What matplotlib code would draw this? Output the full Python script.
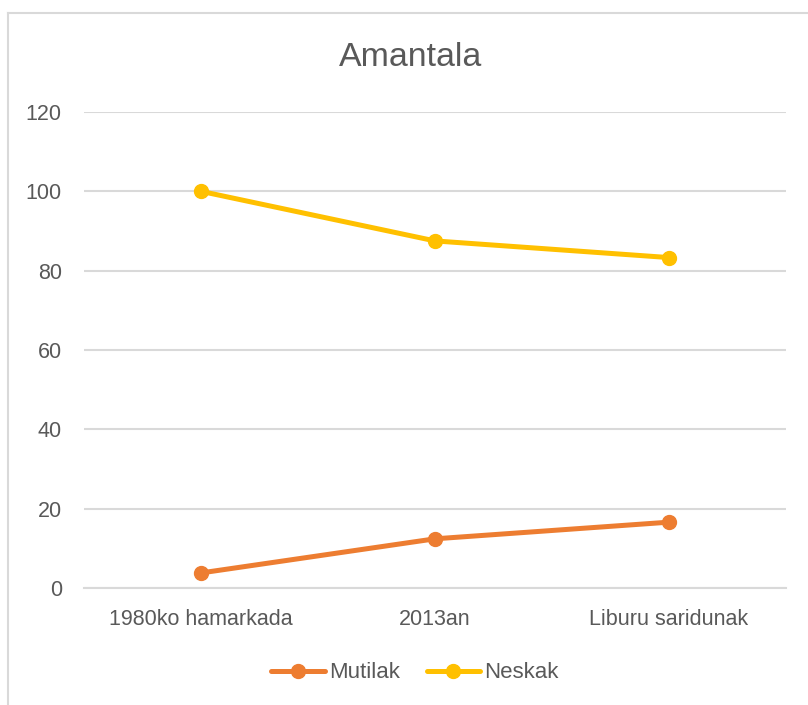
import matplotlib
matplotlib.use("Agg")
import matplotlib.pyplot as plt
from matplotlib.lines import Line2D

categories = ["1980ko hamarkada", "2013an", "Liburu saridunak"]
mutilak = [3.8, 12.4, 16.6]
neskak = [100.0, 87.5, 83.3]
yticks = [0, 20, 40, 60, 80, 100, 120]

plt.rcParams['font.family'] = ['Liberation Sans', 'DejaVu Sans']
TXT = '#595959'
GRID = '#D9D9D9'

fig = plt.figure(figsize=(8.08, 7.05), dpi=100)
W, H = 808, 705
ax = fig.add_axes([84 / W, 1 - 588 / H, (786 - 84) / W, (588 - 112) / H])

x = list(range(len(categories)))
ax.plot(x, mutilak, color='#ED7D31', lw=3.6, marker='o', ms=10, label='Mutilak',
        solid_capstyle='round', zorder=3)
ax.plot(x, neskak, color='#FFC000', lw=3.6, marker='o', ms=10, label='Neskak',
        solid_capstyle='round', zorder=3)

ax.set_xlim(-0.5, len(categories) - 0.5)
ax.set_ylim(0, 120)
ax.set_yticks(yticks)
ax.set_xticks(x)
ax.set_xticklabels(categories)
ax.grid(axis='y', color=GRID, lw=1.5)
ax.set_axisbelow(True)
for s in ['top', 'right', 'left']:
    ax.spines[s].set_visible(False)
ax.spines['bottom'].set_color(GRID)
ax.spines['bottom'].set_linewidth(1.5)
ax.tick_params(axis='both', length=0, labelsize=15.5, colors=TXT)
ax.tick_params(axis='x', pad=15)
ax.tick_params(axis='y', pad=16)

fig.text(411 / W, 1 - 58 / H, 'Amantala', ha='center', va='center', fontsize=24.4, color=TXT)

leg = fig.legend(loc='center', bbox_to_anchor=(415 / W, 1 - 673 / H), ncol=2, frameon=False,
                 fontsize=16, labelcolor=TXT, handlelength=2.4, handletextpad=0.2,
                 columnspacing=1.2)

# chart border (partially visible)
fig.add_artist(Line2D([8 / W, 8 / W], [0, 1 - 13 / H], color=GRID, lw=1.5, transform=fig.transFigure))
fig.add_artist(Line2D([8 / W, 1], [1 - 13 / H, 1 - 13 / H], color=GRID, lw=1.5, transform=fig.transFigure))

fig.savefig('out.png', dpi=100)
